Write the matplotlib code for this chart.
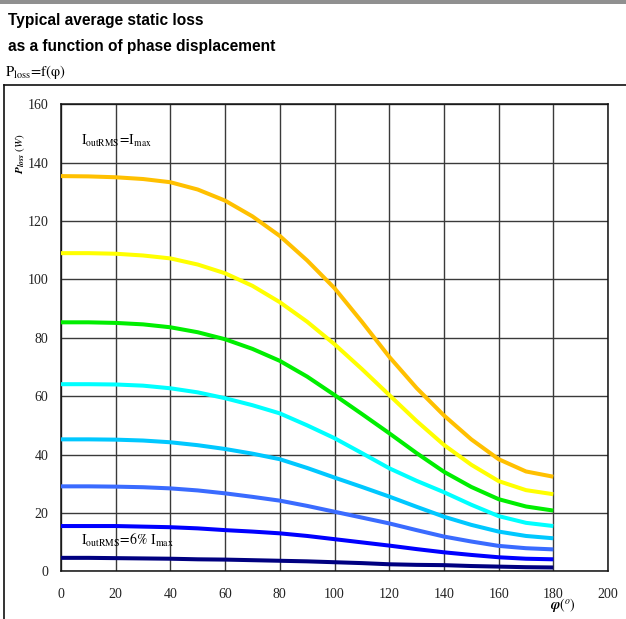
import matplotlib
matplotlib.use("Agg")
import matplotlib.pyplot as plt
from matplotlib.lines import Line2D

plt.rcParams['mathtext.fontset'] = 'stix'
plt.rcParams['font.family'] = ['Liberation Serif', 'DejaVu Serif']

# phase displacement (deg)
phi = [0, 10, 20, 30, 40, 50, 60, 70, 80, 90, 100, 110, 120, 130, 140, 150, 160, 170, 180]

# static loss (W), from I_outRMS = I_max down to 6% I_max
loss_100 = [135.4, 135.3, 135.0, 134.4, 133.3, 130.8, 127.0, 121.6, 114.9, 106.5, 97.0, 85.5, 73.5, 62.8, 53.4, 45.2, 38.4, 34.2, 32.4]
loss_90 = [109.0, 109.0, 108.8, 108.2, 107.2, 105.1, 102.1, 97.8, 92.2, 85.5, 77.8, 69.3, 60.4, 51.5, 43.3, 36.5, 30.9, 27.8, 26.4]
loss_80 = [85.3, 85.3, 85.1, 84.6, 83.6, 81.9, 79.5, 76.2, 72.1, 66.7, 60.4, 53.9, 47.3, 40.5, 34.1, 28.9, 24.7, 22.2, 20.8]
loss_70 = [64.1, 64.1, 64.0, 63.6, 62.7, 61.3, 59.3, 56.9, 54.1, 50.0, 45.6, 40.5, 35.3, 31.0, 27.1, 22.8, 18.9, 16.6, 15.5]
loss_60 = [45.2, 45.2, 45.1, 44.8, 44.2, 43.2, 41.9, 40.3, 38.4, 35.4, 32.1, 28.9, 25.6, 22.1, 18.7, 15.9, 13.6, 12.1, 11.3]
loss_50 = [29.1, 29.1, 29.0, 28.8, 28.4, 27.7, 26.7, 25.5, 24.2, 22.4, 20.4, 18.4, 16.4, 14.1, 11.9, 10.2, 8.7, 7.9, 7.5]
loss_40 = [15.5, 15.5, 15.5, 15.3, 15.1, 14.7, 14.1, 13.6, 13.0, 12.1, 11.0, 9.9, 8.8, 7.6, 6.5, 5.6, 4.8, 4.3, 4.1]
loss_6 = [4.6, 4.6, 4.5, 4.4, 4.3, 4.1, 4.0, 3.8, 3.6, 3.4, 3.1, 2.8, 2.4, 2.2, 2.1, 1.8, 1.6, 1.4, 1.3]

curves = [loss_100, loss_90, loss_80, loss_70, loss_60, loss_50, loss_40, loss_6]
colors = ['#FFC000', '#FFFF00', '#00EE00', '#00FFFF', '#00C8FF', '#3A6BFF', '#0000FF', '#000080']

x_ticks = [0, 20, 40, 60, 80, 100, 120, 140, 160, 180, 200]
y_ticks = [0, 20, 40, 60, 80, 100, 120, 140, 160]

fig = plt.figure(figsize=(6.26, 6.19), dpi=100)
ax = fig.add_axes([0.0974, 0.0771, 0.8739, 0.7544])

for vals, col in zip(curves, colors):
    ax.plot(phi, vals, color=col, lw=2.9, solid_capstyle='butt', zorder=3)

ax.set_xlim(0, 200)
ax.set_ylim(0, 160)
ax.set_xticks(x_ticks)
ax.set_yticks(y_ticks)
ax.tick_params(length=0, labelsize=10, colors='#222222')
ax.tick_params(axis='x', pad=12)
ax.tick_params(axis='y', pad=9)
ax.grid(True, color='#3a3a3a', lw=1.0, zorder=1)
for sp in ax.spines.values():
    sp.set_color('#111111')
    sp.set_linewidth(1.1)

ax.text(-0.074, 0.894, r'$\mathbfit{P}_{\mathbfit{loss}}\ \mathit{(W)}$', transform=ax.transAxes,
        rotation=90, ha='center', va='center', fontsize=8)
ax.text(0.918, -0.073, r'$\mathbfit{\varphi}\mathit{(^o)}$', transform=ax.transAxes,
        ha='center', va='center', fontsize=10)

ax.text(7.5, 147.4, r'$\mathrm{I_{outRMS}\!=\!I_{max}}$', fontsize=9.8, va='center', ha='left')
ax.text(7.5, 10.7, r'$\mathrm{I_{outRMS}\!=\!6\%\ I_{max}}$', fontsize=10, va='center', ha='left')

# header
fig.patches.append(plt.Rectangle((0, 1 - 4 / 619), 1, 4 / 619, transform=fig.transFigure,
                                 color='#909090', lw=0))
fig.text(8 / 626, 1 - 20 / 619, 'Typical average static loss', family='Liberation Sans',
         fontweight='bold', fontsize=11.2, va='center', ha='left')
fig.text(8 / 626, 1 - 47 / 619, 'as a function of phase displacement', family='Liberation Sans',
         fontweight='bold', fontsize=11.2, va='center', ha='left')
fig.text(5 / 626, 1 - 72 / 619, r'$\mathrm{P_{loss}\!=\!f(\varphi)}$', fontsize=10.5,
         va='center', ha='left')

# frame around the plot area
fig.add_artist(Line2D([3.5 / 626, 1], [1 - 85 / 619, 1 - 85 / 619], transform=fig.transFigure,
                      color='#111111', lw=1.2))
fig.add_artist(Line2D([3.5 / 626, 3.5 / 626], [0, 1 - 85 / 619], transform=fig.transFigure,
                      color='#111111', lw=1.2))

fig.savefig('out.png', dpi=100)
